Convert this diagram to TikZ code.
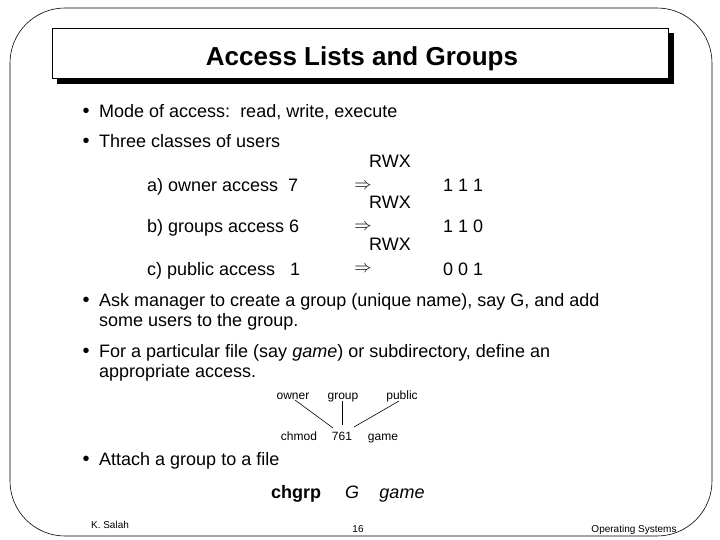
\documentclass[tikz,border=0pt]{standalone}
\usepackage{fontspec}
\setmainfont{Liberation Sans}
\newfontfamily\dv{DejaVu Sans}
\begin{document}
\begin{tikzpicture}[x=1pt,y=-1pt,
  txt/.style={anchor=base west,inner sep=0pt,font=\fontsize{18}{20}\selectfont},
  sm/.style={anchor=base,inner sep=0pt,font=\fontsize{12}{13}\selectfont},
  bul/.style={anchor=base,inner sep=0pt,font=\fontsize{20}{20}\selectfont}]
\useasboundingbox (0,0) rectangle (720,540);
\draw[line width=0.6pt,rounded corners=55pt] (10,8) rectangle (712,536);
\fill (57,33) rectangle (674,84);
\draw[fill=white,line width=0.6pt] (52,28) rectangle (668,78);
\node[inner sep=0pt,anchor=base,font=\fontsize{26}{28}\selectfont\bfseries] (title) at (362,66) {Access Lists and Groups};
\foreach \y/\n in {118/b1,148/b2,306/b3,357/b4,465/b5}{\node[bul] (\n) at (86,\y) {\textbullet};}
\node[txt] (t1) at (99,118) {Mode of access:\ \ read, write, execute};
\node[txt] (t2) at (99,148) {Three classes of users};
\node[txt] (a) at (147,192) {a) owner access\ \ 7};
\node[txt] (b) at (147,233) {b) groups access\ 6};
\node[txt] (c) at (147,275) {c) public access\ \ \ 1};
\foreach \y/\n in {168/r1,209/r2,251/r3}{\node[txt,anchor=base] (\n) at (390,\y) {RWX};}
\foreach \y/\n in {186/i1,227/i2,269/i3}{\node[inner sep=0pt,font=\fontsize{18}{18}\selectfont] (\n) at (363,\y) {$\Rightarrow$};}
\node[txt] (v1) at (443,192) {1 1 1};
\node[txt] (v2) at (443,233) {1 1 0};
\node[txt] (v3) at (443,275) {0 0 1};
\node[txt] (t3a) at (99,306) {Ask manager to create a group (unique name), say G, and add};
\node[txt] (t3b) at (99,326) {some users to the group.};
\node[txt] (t4a) at (99,357) {For a particular file (say \textit{game}) or subdirectory, define an};
\node[txt] (t4b) at (99,377) {appropriate access.};
\node[sm] (ow) at (293,399) {owner};
\node[sm] (gr) at (343,399) {group};
\node[sm] (pu) at (402,399) {public};
\node[sm] (ch) at (299,440) {chmod};
\node[sm] (n761) at (342,440) {761};
\node[sm] (ga) at (383,440) {game};
\draw[line width=0.6pt] (295,400) -- (333,428);
\draw[line width=0.6pt] (342,401) -- (342,425);
\draw[line width=0.6pt] (399,401) -- (354,427);
\node[txt] (t5) at (99,465) {Attach a group to a file};
\node[txt,anchor=base,font=\fontsize{18}{20}\selectfont\bfseries] (cg) at (296,498) {chgrp};
\node[txt,anchor=base,font=\fontsize{18}{20}\selectfont\itshape] (g) at (352,498) {G};
\node[txt,anchor=base,font=\fontsize{18}{20}\selectfont\itshape] (gm) at (402,498) {game};
\node[sm,font=\fontsize{10}{10}\selectfont] (ks) at (110,528) {K. Salah};
\node[sm,font=\fontsize{10}{10}\selectfont] (pg) at (358,532) {16};
\node[sm,font=\fontsize{10}{10}\selectfont] (os) at (634,532) {Operating Systems};
\end{tikzpicture}
\end{document}
